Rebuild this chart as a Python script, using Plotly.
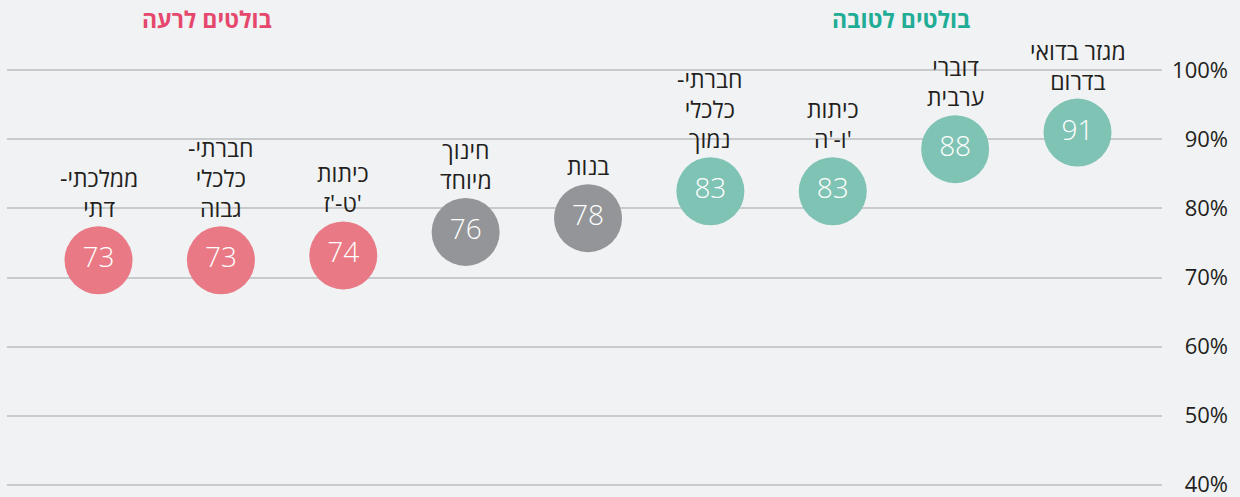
import plotly.graph_objects as go

# ---- data ----
labels = [
    "ממלכתי-\u200f<br>דתי",
    "חברתי-\u200f<br>כלכלי<br>גבוה",
    "כיתות<br>\u200f'ט-'ז",
    "חינוך<br>מיוחד",
    "בנות",
    "חברתי-\u200f<br>כלכלי<br>נמוך",
    "כיתות<br>\u200f'ו-'ה",
    "דוברי<br>ערבית",
    "מגזר בדואי<br>בדרום",
]
display_values = [73, 73, 74, 76, 78, 83, 83, 88, 91]
plotted_values = [72.5, 72.5, 73.2, 76.6, 78.6, 82.5, 82.5, 88.6, 91.0]
groups = ["bad", "bad", "bad", "neutral", "neutral", "good", "good", "good", "good"]
tick_vals = [40, 50, 60, 70, 80, 90, 100]
tick_text = ["40%", "50%", "60%", "70%", "80%", "90%", "100%"]
header_bad = "בולטים לרעה"
header_good = "בולטים לטובה"

# ---- styles ----
group_colors = {"bad": "#e97984", "neutral": "#939598", "good": "#7fc3b4"}
BG = "#f1f2f4"
FONT = "Open Sans, DejaVu Sans, sans-serif"
TEXT = "#231f20"

x_idx = list(range(len(labels)))

fig = go.Figure()
fig.add_trace(go.Scatter(
    x=x_idx,
    y=plotted_values,
    mode="markers+text",
    marker=dict(size=68, color=[group_colors[g] for g in groups], line=dict(width=0)),
    text=[str(v) for v in display_values],
    textposition="middle center",
    textfont=dict(family=FONT, size=28, color="white", weight=300),
    hoverinfo="skip",
    cliponaxis=False,
    showlegend=False,
))

for i, (lab, yv) in enumerate(zip(labels, plotted_values)):
    fig.add_annotation(
        x=i, y=yv, xref="x", yref="y",
        text=lab, showarrow=False,
        xanchor="center", yanchor="bottom", yshift=34,
        font=dict(family=FONT, size=23, color=TEXT),
        align="center",
    )

fig.add_annotation(x=0.887, y=1.113, xref="x", yref="paper", text=header_bad,
                   showarrow=False, xanchor="center", yanchor="middle",
                   font=dict(family=FONT, size=23, color="#e5476d", weight="bold"))
fig.add_annotation(x=6.56, y=1.113, xref="x", yref="paper", text=header_good,
                   showarrow=False, xanchor="center", yanchor="middle",
                   font=dict(family=FONT, size=23, color="#21ad95", weight="bold"))

fig.update_layout(
    width=1240, height=497,
    margin=dict(l=7, r=12, t=67.25, b=8.55, autoexpand=False),
    paper_bgcolor=BG, plot_bgcolor=BG,
    xaxis=dict(domain=[0, 0.9459], range=[-0.748, 8.690], showgrid=False,
               zeroline=False, showline=False, showticklabels=False, ticks=""),
    yaxis=dict(range=[39.5, 100.5], anchor="free", position=1.0, side="left",
               tickvals=tick_vals, ticktext=tick_text, ticks="",
               ticklabeloverflow="allow", automargin=False,
               showgrid=True, gridcolor="#c9cacc", gridwidth=1.5,
               zeroline=False, showline=False,
               tickfont=dict(family=FONT, size=22, color=TEXT)),
)

fig.write_html("out.html", post_script="document.body.style.margin='0px';",
               config={"displayModeBar": False})
